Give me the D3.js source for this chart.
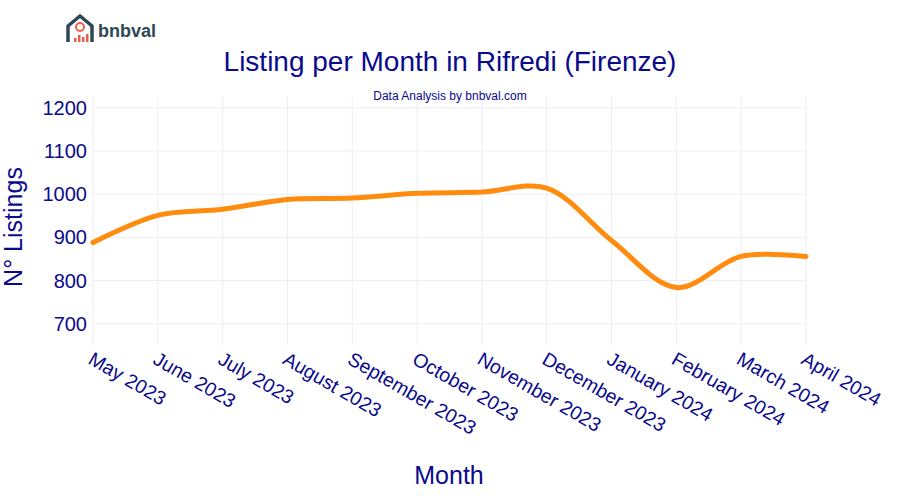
<!DOCTYPE html>
<html><head><meta charset="utf-8">
<script src="https://cdn.jsdelivr.net/npm/d3@7"></script>
<style>body{margin:0;background:#fff}text{font-family:Arial,"Liberation Sans",sans-serif}</style>
</head><body><svg id="c" width="900" height="500"></svg>
<script>
const months=["May 2023","June 2023","July 2023","August 2023","September 2023","October 2023","November 2023","December 2023","January 2024","February 2024","March 2024","April 2024"];
const listings=[888,951,965,988,991,1002,1005,1014,893,784,856,856];
const yTicks=[700,800,900,1000,1100,1200];
const navy="#0a0a8c";
const svg=d3.select("#c");
const x=d3.scalePoint().domain(months).range([93,806]);
const y=d3.scaleLinear().domain([651,1225]).range([345,97]);
svg.append("g").selectAll("line").data(yTicks).join("line")
 .attr("x1",93).attr("x2",806).attr("y1",d=>y(d)).attr("y2",d=>y(d)).attr("stroke","#ebeef4");
svg.append("g").selectAll("line").data(months).join("line")
 .attr("x1",d=>x(d)).attr("x2",d=>x(d)).attr("y1",97).attr("y2",345).attr("stroke","#ebeef4");
svg.append("g").selectAll("text").data(yTicks).join("text")
 .attr("x",87).attr("y",d=>y(d)+7).attr("text-anchor","end").attr("font-size",20).attr("fill",navy).text(d=>d);
svg.append("g").selectAll("text").data(months).join("text")
 .attr("transform",d=>`translate(${x(d)-6},${363}) rotate(30)`).attr("font-size",19.5).attr("fill",navy).text(d=>d);
svg.append("path").datum(months.map((m,i)=>[x(m),y(listings[i])]))
 .attr("d",d3.line().curve(d3.curveCatmullRom.alpha(0.5))).attr("fill","none").attr("stroke","#ff8c0f").attr("stroke-width",5).attr("stroke-linecap","round");
svg.append("text").attr("x",450).attr("y",71).attr("text-anchor","middle").attr("font-size",28).attr("fill",navy).text("Listing per Month in Rifredi (Firenze)");
svg.append("text").attr("x",450).attr("y",100).attr("text-anchor","middle").attr("font-size",12).attr("fill",navy).text("Data Analysis by bnbval.com");
svg.append("text").attr("x",449).attr("y",484).attr("text-anchor","middle").attr("font-size",25).attr("fill",navy).text("Month");
svg.append("text").attr("transform","translate(22,227) rotate(-90)").attr("text-anchor","middle").attr("font-size",25).attr("fill",navy).text("N° Listings");
const lg=svg.append("g");
lg.append("path").attr("d","M68,42 L68,26 L80,16 L92,26 L92,42").attr("fill","none").attr("stroke","#2e4756").attr("stroke-width",3.5);
lg.append("circle").attr("cx",80).attr("cy",27).attr("r",4).attr("fill","none").attr("stroke","#e8604c").attr("stroke-width",2);
[[74,4],[78,7],[82,5],[86,8]].forEach(([bx,h])=>lg.append("rect").attr("x",bx).attr("y",42-h).attr("width",2.5).attr("height",h).attr("fill","#e8604c"));
lg.append("text").attr("x",98).attr("y",37).attr("font-size",18).attr("font-weight","bold").attr("fill","#2e4756").text("bnbval");
</script></body></html>
